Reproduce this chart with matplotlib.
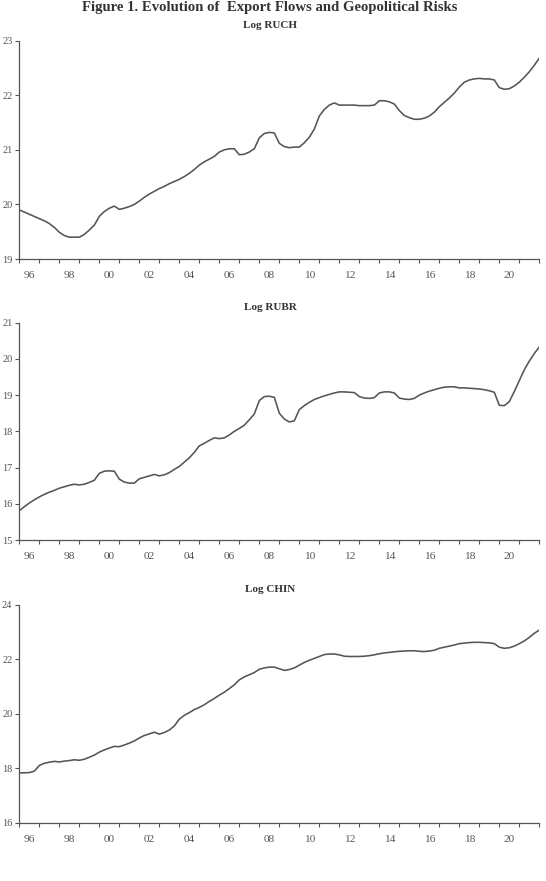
import numpy as np
import matplotlib
matplotlib.use("Agg")
import matplotlib.pyplot as plt

start_year = 1996
end_year = 2022

log_ruch = [19.90, 19.86, 19.82, 19.78, 19.74, 19.70, 19.65, 19.58,
            19.49, 19.43, 19.40, 19.40, 19.40, 19.45, 19.53, 19.62,
            19.78, 19.87, 19.93, 19.97, 19.91, 19.93, 19.96, 20.00,
            20.06, 20.13, 20.19, 20.24, 20.29, 20.33, 20.38, 20.42,
            20.46, 20.51, 20.57, 20.64, 20.72, 20.78, 20.83, 20.88,
            20.96, 21.00, 21.02, 21.02, 20.91, 20.92, 20.96, 21.02,
            21.22, 21.30, 21.32, 21.31, 21.12, 21.06, 21.04, 21.05,
            21.05, 21.13, 21.23, 21.38, 21.62, 21.74, 21.82, 21.86,
            21.82, 21.82, 21.82, 21.82, 21.81, 21.81, 21.81, 21.82,
            21.90, 21.90, 21.88, 21.84, 21.72, 21.63, 21.59, 21.56,
            21.56, 21.58, 21.62, 21.69, 21.79, 21.87, 21.95, 22.04,
            22.15, 22.24, 22.28, 22.30, 22.31, 22.30, 22.30, 22.28,
            22.14, 22.11, 22.12, 22.17, 22.24, 22.33, 22.43, 22.55,
            22.68]

log_rubr = [15.81, 15.92, 16.02, 16.11, 16.19, 16.26, 16.32, 16.37,
            16.43, 16.47, 16.51, 16.54, 16.52, 16.54, 16.59, 16.65,
            16.84, 16.90, 16.91, 16.90, 16.68, 16.60, 16.57, 16.57,
            16.69, 16.73, 16.77, 16.81, 16.77, 16.80, 16.86, 16.95,
            17.03, 17.15, 17.27, 17.42, 17.60, 17.67, 17.75, 17.82,
            17.80, 17.82, 17.90, 18.00, 18.08, 18.17, 18.32, 18.48,
            18.85, 18.96, 18.97, 18.94, 18.50, 18.34, 18.26, 18.29,
            18.60, 18.71, 18.80, 18.88, 18.93, 18.98, 19.02, 19.06,
            19.09, 19.09, 19.08, 19.07, 18.96, 18.92, 18.91, 18.93,
            19.06, 19.09, 19.09, 19.06, 18.92, 18.89, 18.88, 18.91,
            19.00, 19.06, 19.11, 19.15, 19.19, 19.22, 19.23, 19.23,
            19.20, 19.20, 19.19, 19.18, 19.17, 19.15, 19.12, 19.08,
            18.72, 18.71, 18.82, 19.10, 19.40, 19.70, 19.94, 20.15,
            20.33]

log_chin = [17.83, 17.83, 17.84, 17.89, 18.10, 18.18, 18.22, 18.25,
            18.23, 18.26, 18.28, 18.31, 18.29, 18.33, 18.40, 18.48,
            18.59, 18.67, 18.74, 18.80, 18.79, 18.85, 18.92, 19.00,
            19.11, 19.20, 19.26, 19.32, 19.25, 19.31, 19.40, 19.55,
            19.80, 19.94, 20.04, 20.15, 20.23, 20.33, 20.45, 20.56,
            20.68, 20.79, 20.92, 21.06, 21.24, 21.35, 21.43, 21.51,
            21.63, 21.68, 21.71, 21.71, 21.65, 21.59, 21.62, 21.68,
            21.78, 21.88, 21.96, 22.03, 22.10, 22.17, 22.19, 22.19,
            22.16, 22.11, 22.10, 22.10, 22.10, 22.11, 22.13, 22.16,
            22.20, 22.23, 22.25, 22.27, 22.29, 22.30, 22.31, 22.31,
            22.29, 22.28, 22.30, 22.33, 22.40, 22.44, 22.48, 22.52,
            22.57, 22.59, 22.61, 22.62, 22.62, 22.61, 22.60, 22.57,
            22.44, 22.40, 22.42, 22.48, 22.57, 22.67, 22.80, 22.95,
            23.07]

year_labels = ['96', '98', '00', '02', '04', '06', '08', '10', '12',
               '14', '16', '18', '20']

panel_titles = ['Log RUCH', 'Log RUBR', 'Log CHIN']
y_ticks = [[19, 20, 21, 22, 23], [15, 16, 17, 18, 19, 20, 21], [16, 18, 20, 22, 24]]

W, H = 546, 881
GREY = '#555555'
plt.rcParams['font.family'] = ['Liberation Serif', 'DejaVu Serif']

fig = plt.figure(figsize=(W / 100, H / 100), dpi=100)

# pixel boxes of each axes: (top, bottom)
boxes = [(40.7, 259.0), (322.7, 540.0), (604.7, 822.7)]
title_y = [26, 307, 590]
left_px, right_px = 19.3, 539.3

fig.text(270 / W, 1 - 7.5 / H, 'Figure 1. Evolution of  Export Flows and Geopolitical Risks',
         ha='center', va='center', fontsize=10.6, fontweight='bold', color='#333333')

series = [log_ruch, log_rubr, log_chin]
for k, vals in enumerate(series):
    top, bot = boxes[k]
    ax = fig.add_axes([left_px / W, 1 - bot / H, (right_px - left_px) / W, (bot - top) / H])
    t = start_year + np.arange(len(vals)) / 4.0
    ax.plot(t, vals, color=GREY, lw=1.15, solid_joinstyle='round')

    ax.set_xlim(start_year, end_year)
    ax.set_ylim(y_ticks[k][0], y_ticks[k][-1])
    for side in ['top', 'right']:
        ax.spines[side].set_visible(False)
    for side in ['left', 'bottom']:
        ax.spines[side].set_color(GREY)
        ax.spines[side].set_linewidth(0.9)

    ax.set_yticks(y_ticks[k])
    ax.set_yticklabels([str(v) for v in y_ticks[k]])
    ax.set_xticks(np.arange(start_year, end_year + 1))
    ax.set_xticklabels([])
    ax.set_xticks(np.arange(start_year, end_year, 2) + 0.5, minor=True)
    ax.set_xticklabels(year_labels, minor=True)

    ax.tick_params(axis='both', which='major', direction='out', length=3, width=0.8,
                   color=GREY, labelcolor=GREY)
    ax.tick_params(axis='x', which='minor', length=0, pad=8.5, labelcolor=GREY, labelsize=8.2)
    ax.tick_params(axis='y', pad=2, labelsize=7.5)

    fig.text(270 / W, 1 - title_y[k] / H, panel_titles[k], ha='center', va='center',
             fontsize=8, fontweight='bold', color='#333333')

fig.savefig('out.png', dpi=100)
